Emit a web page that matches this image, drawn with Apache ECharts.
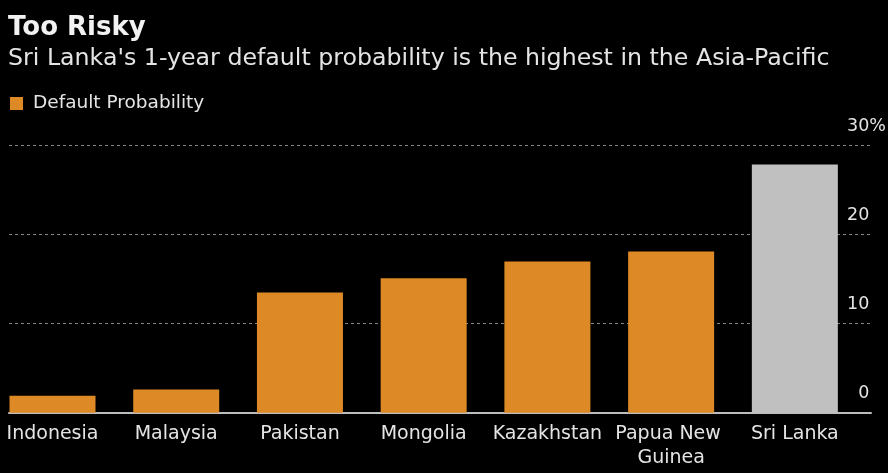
<!DOCTYPE html>
<html>
<head>
<meta charset="utf-8">
<script src="https://cdn.jsdelivr.net/npm/echarts@6/dist/echarts.min.js"></script>
<style>
html,body{margin:0;padding:0;background:#000;}
#c{width:888px;height:473px;}
</style>
</head>
<body>
<div id="c"></div>
<script>
var categories = ['Indonesia', 'Malaysia', 'Pakistan', 'Mongolia', 'Kazakhstan', 'Papua New Guinea', 'Sri Lanka'];
var defaultProbability = [1.9, 2.6, 13.5, 15.1, 17.0, 18.1, 27.9];
var yTicks = [0, 10, 20, 30];
var highlighted = 'Sri Lanka';

var FONT = 'DejaVu Sans';
var ORANGE = '#DD8A26';
var GREY = '#C0C0C0';
var TEXT = '#E4E4E4';

var chart = echarts.init(document.getElementById('c'), null, {renderer: 'canvas'});

var barData = defaultProbability.map(function (v, i) {
  return categories[i] === highlighted ? {value: v, itemStyle: {color: GREY}} : v;
});

var yMax = yTicks[yTicks.length - 1];
var yInterval = yTicks[1] - yTicks[0];

var option = {
  backgroundColor: '#000',
  animation: false,
  title: [
    {
      text: 'Too Risky',
      left: 3, top: 10,
      textStyle: {fontFamily: FONT, fontSize: 26, fontWeight: 'bold', color: '#F2F2F2'}
    },
    {
      text: "Sri Lanka's 1-year default probability is the highest in the Asia-Pacific",
      left: 3, top: 42,
      textStyle: {fontFamily: FONT, fontSize: 23.7, fontWeight: 'normal', color: TEXT}
    }
  ],
  legend: {
    left: 5,
    top: 89,
    icon: 'rect',
    itemWidth: 13,
    itemHeight: 13,
    itemGap: 10,
    textStyle: {fontFamily: FONT, fontSize: 18.5, color: TEXT, padding: [0, 0, 0, 5]},
    data: ['Default Probability']
  },
  grid: [
    {left: 52.5, right: 93.15, top: 145.7, bottom: 60.3, containLabel: false, outerBoundsMode: 'none'},
    {left: 9, right: 17, top: 145.7, bottom: 60.3, containLabel: false, outerBoundsMode: 'none'}
  ],
  xAxis: [
    {
      type: 'category', gridIndex: 0, data: categories, boundaryGap: false,
      axisLine: {show: false}, axisTick: {show: false}, splitLine: {show: false},
      axisLabel: {
        fontFamily: FONT, fontSize: 19, color: TEXT, margin: 9,
        width: 122, overflow: 'break', lineHeight: 24, interval: 0
      }
    },
    {
      type: 'value', gridIndex: 1, min: 0, max: 1,
      axisLabel: {show: false}, axisTick: {show: false}, splitLine: {show: false},
      axisLine: {show: true, lineStyle: {color: '#BDBDBD', width: 2}}
    }
  ],
  yAxis: [
    {type: 'value', gridIndex: 0, min: 0, max: yMax, interval: yInterval, show: false},
    {
      type: 'value', gridIndex: 1, position: 'right', min: 0, max: yMax, interval: yInterval,
      axisLine: {show: false}, axisTick: {show: false},
      splitLine: {show: true, lineStyle: {color: '#858585', type: [3, 3], width: 1}},
      axisLabel: {
        align: 'right', margin: 15, verticalAlign: 'bottom', padding: [0, 0, 10, 0],
        formatter: function (v) {
          return v === yMax ? '{n|' + v + '}{p|%}' : '{n|' + v + '}{h|%}';
        },
        rich: {
          n: {fontFamily: FONT, fontSize: 17.5, color: TEXT},
          p: {fontFamily: FONT, fontSize: 17.5, color: TEXT},
          h: {fontFamily: FONT, fontSize: 17.5, color: 'rgba(0,0,0,0)'}
        }
      }
    }
  ],
  series: [
    {
      name: 'Default Probability',
      type: 'bar',
      xAxisIndex: 0, yAxisIndex: 0,
      barWidth: 86,
      clip: false,
      itemStyle: {color: ORANGE},
      data: barData,
      z: 3
    }
  ]
};
chart.setOption(option);
</script>
</body>
</html>
